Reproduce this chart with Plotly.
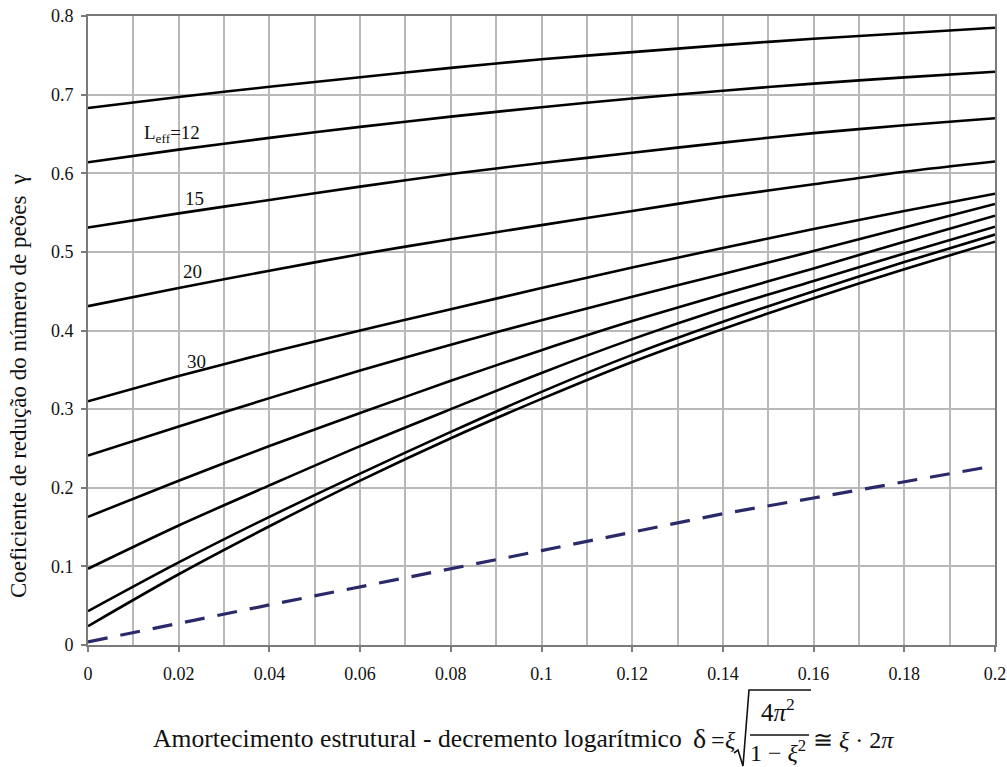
import plotly.graph_objects as go

# ---------------- data ----------------
x_vals = [0, 0.02, 0.04, 0.06, 0.08, 0.10, 0.12, 0.14, 0.16, 0.18, 0.20]

curve_1 = [0.683, 0.697, 0.710, 0.722, 0.734, 0.745, 0.754, 0.763, 0.771, 0.778, 0.785]
curve_2 = [0.614, 0.630, 0.645, 0.659, 0.672, 0.684, 0.695, 0.705, 0.714, 0.722, 0.729]
curve_3 = [0.531, 0.549, 0.566, 0.583, 0.599, 0.613, 0.626, 0.639, 0.651, 0.661, 0.670]
curve_4 = [0.431, 0.454, 0.476, 0.497, 0.516, 0.534, 0.552, 0.570, 0.586, 0.602, 0.615]
curve_5 = [0.310, 0.342, 0.372, 0.400, 0.427, 0.454, 0.480, 0.505, 0.529, 0.552, 0.574]
curve_6 = [0.241, 0.278, 0.314, 0.349, 0.382, 0.413, 0.443, 0.472, 0.501, 0.531, 0.561]
curve_7 = [0.163, 0.209, 0.253, 0.295, 0.336, 0.375, 0.412, 0.446, 0.479, 0.513, 0.546]
curve_8 = [0.097, 0.152, 0.203, 0.253, 0.300, 0.346, 0.389, 0.428, 0.463, 0.498, 0.532]
curve_9 = [0.043, 0.105, 0.163, 0.218, 0.271, 0.322, 0.369, 0.411, 0.450, 0.487, 0.522]
curve_10 = [0.024, 0.090, 0.151, 0.209, 0.263, 0.313, 0.360, 0.402, 0.441, 0.478, 0.513]
curves = [curve_1, curve_2, curve_3, curve_4, curve_5, curve_6, curve_7, curve_8, curve_9, curve_10]

dash_x = [0, 0.04, 0.10, 0.14, 0.16, 0.18, 0.198]
dash_y = [0.004, 0.051, 0.120, 0.167, 0.187, 0.207, 0.226]

label_text = ["L<sub>eff</sub>=12", "15", "20", "30"]
label_x = [0.0185, 0.0235, 0.0230, 0.0240]
label_y = [0.650, 0.568, 0.475, 0.361]

x_tick_vals = [0, 0.02, 0.04, 0.06, 0.08, 0.10, 0.12, 0.14, 0.16, 0.18, 0.20]
x_tick_text = ["0", "0.02", "0.04", "0.06", "0.08", "0.1", "0.12", "0.14", "0.16", "0.18", "0.2"]
y_tick_vals = [0, 0.1, 0.2, 0.3, 0.4, 0.5, 0.6, 0.7, 0.8]
y_tick_text = ["0", "0.1", "0.2", "0.3", "0.4", "0.5", "0.6", "0.7", "0.8"]

# ---------------- layout geometry ----------------
W, H = 1007, 767
ML, MR, MT, MB = 88, 12, 16, 122
PW, PH = W - ML - MR, H - MT - MB


def px(xp):
    return (xp - ML) / PW


def py(yp):
    return (H - MB - yp) / PH


SERIF = "Liberation Serif, Times New Roman, serif"
INK = "#111111"

fig = go.Figure()
for c in curves:
    fig.add_trace(go.Scatter(x=x_vals, y=c, mode="lines",
                             line=dict(color="#000000", width=2.6, shape="spline", smoothing=0.8),
                             showlegend=False, hoverinfo="skip"))
fig.add_trace(go.Scatter(x=dash_x, y=dash_y, mode="lines",
                         line=dict(color="#2a2a6a", width=3.2, dash="20px,13px"),
                         showlegend=False, hoverinfo="skip"))

for t, lx, ly in zip(label_text, label_x, label_y):
    fig.add_annotation(x=lx, y=ly, text=t, showarrow=False,
                       font=dict(family=SERIF, size=19, color=INK))

# x-axis title built from text pieces and a drawn radical
fig.add_annotation(xref="paper", yref="paper", x=px(684), y=py(738), xanchor="right", yanchor="middle",
                   text="Amortecimento estrutural - decremento logarítmico", showarrow=False,
                   font=dict(family=SERIF, size=25.6, color=INK))
fig.add_annotation(xref="paper", yref="paper", x=px(699), y=py(738), xanchor="center", yanchor="middle",
                   text="δ", showarrow=False, font=dict(family=SERIF, size=28, color=INK))
fig.add_annotation(xref="paper", yref="paper", x=px(718), y=py(740), xanchor="center", yanchor="middle",
                   text="=", showarrow=False, font=dict(family=SERIF, size=24, color=INK))
fig.add_annotation(xref="paper", yref="paper", x=px(730), y=py(740), xanchor="center", yanchor="middle",
                   text="<i>ξ</i>", showarrow=False, font=dict(family=SERIF, size=24, color=INK))
fig.add_annotation(xref="paper", yref="paper", x=px(778), y=py(710), xanchor="center", yanchor="middle",
                   text="4<i>π</i><sup>2</sup>", showarrow=False, font=dict(family=SERIF, size=25, color=INK))
fig.add_annotation(xref="paper", yref="paper", x=px(778), y=py(751), xanchor="center", yanchor="middle",
                   text="1 − <i>ξ</i><sup>2</sup>", showarrow=False, font=dict(family=SERIF, size=24, color=INK))
fig.add_annotation(xref="paper", yref="paper", x=px(811), y=py(740), xanchor="left", yanchor="middle",
                   text="≅ <i>ξ</i> · 2<i>π</i>", showarrow=False, font=dict(family=SERIF, size=24, color=INK))

radical = (f"M {px(734)} {py(753)} L {px(738)} {py(750)} L {px(743)} {py(766)} "
           f"L {px(749)} {py(690)} L {px(811)} {py(690)}")
fig.add_shape(type="path", xref="paper", yref="paper", path=radical,
              line=dict(color=INK, width=1.6))
fig.add_shape(type="line", xref="paper", yref="paper", x0=px(750), x1=px(809), y0=py(735), y1=py(735),
              line=dict(color=INK, width=1.4))

# y-axis title
fig.add_annotation(xref="paper", yref="paper", x=px(18), y=py(386), xanchor="center", yanchor="middle",
                   text="Coeficiente de redução do número de peões  γ", textangle=-90, showarrow=False,
                   font=dict(family=SERIF, size=23, color=INK))

fig.update_xaxes(range=[0, 0.2], tickvals=x_tick_vals, ticktext=x_tick_text, automargin=False,
                 showgrid=True, gridcolor="#b9b9b9", gridwidth=1.5,
                 minor=dict(tick0=0, dtick=0.01, showgrid=True, gridcolor="#b9b9b9", gridwidth=1.5),
                 showline=True, linecolor="#7a7a7a", linewidth=1.8, mirror=True,
                 ticks="outside", ticklen=5, tickcolor="#7a7a7a", tickwidth=1.5,
                 tickfont=dict(family=SERIF, size=18, color=INK), zeroline=False,
                 ticklabelstandoff=6)
fig.update_yaxes(range=[0, 0.8], tickvals=y_tick_vals, ticktext=y_tick_text, automargin=False,
                 showgrid=True, gridcolor="#b9b9b9", gridwidth=1.5,
                 showline=True, linecolor="#7a7a7a", linewidth=1.8, mirror=True,
                 ticks="outside", ticklen=5, tickcolor="#7a7a7a", tickwidth=1.5,
                 tickfont=dict(family=SERIF, size=18, color=INK), zeroline=False,
                 ticklabelstandoff=4)

fig.update_layout(width=W, height=H, margin=dict(l=ML, r=MR, t=MT, b=MB, autoexpand=False),
                  plot_bgcolor="white", paper_bgcolor="white", showlegend=False)

fig.write_html("out.html")
